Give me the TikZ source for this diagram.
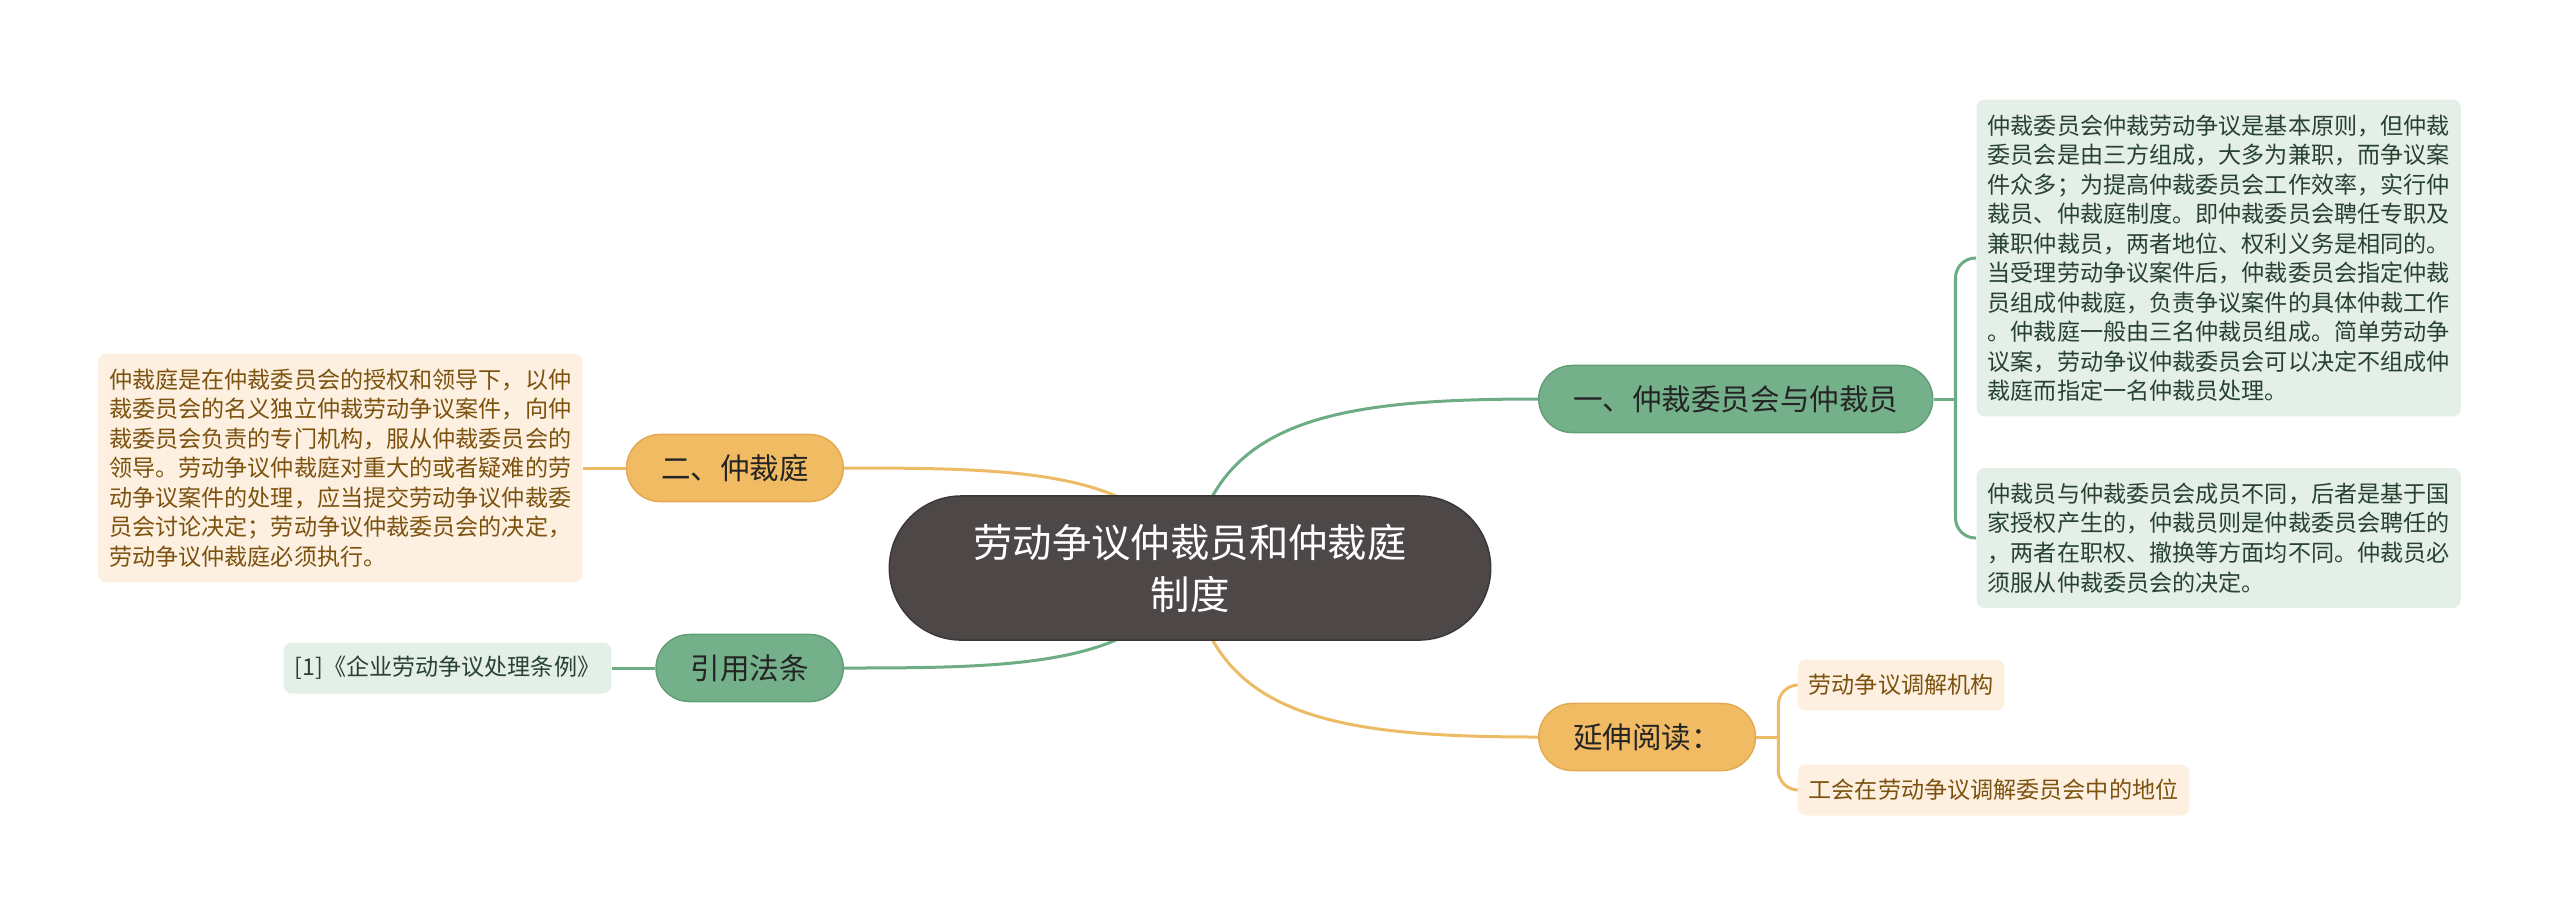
\documentclass[tikz,border=0pt]{standalone}
\usepackage{fontspec}
\setmainfont{Noto Sans CJK SC}
\usetikzlibrary{positioning,calc,backgrounds}
\definecolor{mmRoot}    {RGB}{ 77, 71, 71}
\definecolor{mmRootD}   {RGB}{ 60, 55, 55}
\definecolor{mmGreen}   {RGB}{116,176,138}
\definecolor{mmGreenD}  {RGB}{ 98,158,120}
\definecolor{mmGreenLn} {RGB}{110,172,134}
\definecolor{mmGreenL}  {RGB}{228,239,231}
\definecolor{mmGreenT}  {RGB}{ 40, 66, 50}
\definecolor{mmOrange}  {RGB}{241,187,100}
\definecolor{mmOrangeD} {RGB}{226,170, 82}
\definecolor{mmOrangeLn}{RGB}{237,187,102}
\definecolor{mmOrangeL} {RGB}{253,240,225}
\definecolor{mmOrangeT} {RGB}{124, 82, 14}
\definecolor{mmInk}     {RGB}{ 36, 36, 36}
\newcommand{\rootfont}{\fontsize{11.2pt}{14.8pt}\selectfont}
\newcommand{\branchfont}{\fontsize{8.4pt}{10pt}\selectfont}
\newcommand{\leaffont}{\fontsize{6.57pt}{8.39pt}\selectfont}
\begin{document}
\begin{tikzpicture}[x=0.01cm,y=-0.01cm,
  every node/.style={inner sep=0},
  rootbox/.style={fill=mmRoot,draw=mmRootD,line width=0.015cm,
                  rounded corners=0.72cm,minimum width=6.01cm,minimum height=1.44cm,
                  align=center,text=white,font=\rootfont},
  gbranch/.style={fill=mmGreen,draw=mmGreenD,line width=0.015cm,
                  rounded corners=0.335cm,minimum height=0.67cm,inner xsep=0.345cm,
                  text=mmInk,font=\branchfont},
  obranch/.style={gbranch,fill=mmOrange,draw=mmOrangeD},
  gleaf/.style={fill=mmGreenL,rounded corners=0.08cm,inner xsep=0.11cm,
                inner ysep=0.15cm,align=left,text=mmGreenT,font=\leaffont},
  oleaf/.style={gleaf,fill=mmOrangeL,text=mmOrangeT},
  oneline/.style={minimum height=0.51cm,inner ysep=0pt},
  glink/.style={draw=mmGreenLn,line width=0.03cm},
  olink/.style={draw=mmOrangeLn,line width=0.03cm}
]
\useasboundingbox (0,0) rectangle (2560,914);

% root
\node[rootbox] (root) at (1190,568) {劳动争议仲裁员和仲裁庭\\制度};

% branches
\node[gbranch,anchor=west] (arb)  at (1538,399) {一、仲裁委员会与仲裁员};
\node[obranch,anchor=east] (trib) at (844,468)  {二、仲裁庭};
\node[gbranch,anchor=east] (law)  at (844,668)  {引用法条};
\node[obranch,anchor=west] (read) at (1538,737) {延伸阅读：};

% leaves
\node[gleaf,anchor=west] (arbA) at (1976,258)
  {仲裁委员会仲裁劳动争议是基本原则，但仲裁\\
   委员会是由三方组成，大多为兼职，而争议案\\
   件众多；为提高仲裁委员会工作效率，实行仲\\
   裁员、仲裁庭制度。即仲裁委员会聘任专职及\\
   兼职仲裁员，两者地位、权利义务是相同的。\\
   当受理劳动争议案件后，仲裁委员会指定仲裁\\
   员组成仲裁庭，负责争议案件的具体仲裁工作\\
   。仲裁庭一般由三名仲裁员组成。简单劳动争\\
   议案，劳动争议仲裁委员会可以决定不组成仲\\
   裁庭而指定一名仲裁员处理。};
\node[gleaf,anchor=west] (arbB) at (1976,538)
  {仲裁员与仲裁委员会成员不同，后者是基于国\\
   家授权产生的，仲裁员则是仲裁委员会聘任的\\
   ，两者在职权、撤换等方面均不同。仲裁员必\\
   须服从仲裁委员会的决定。};
\node[oleaf,anchor=east] (tribA) at (583,468)
  {仲裁庭是在仲裁委员会的授权和领导下，以仲\\
   裁委员会的名义独立仲裁劳动争议案件，向仲\\
   裁委员会负责的专门机构，服从仲裁委员会的\\
   领导。劳动争议仲裁庭对重大的或者疑难的劳\\
   动争议案件的处理，应当提交劳动争议仲裁委\\
   员会讨论决定；劳动争议仲裁委员会的决定，\\
   劳动争议仲裁庭必须执行。};
\node[gleaf,oneline,anchor=east] (lawA) at (612,668) {[1]《企业劳动争议处理条例》};
\node[oleaf,oneline,anchor=west] (readA) at (1797,685) {劳动争议调解机构};
\node[oleaf,oneline,anchor=west] (readB) at (1797,790) {工会在劳动争议调解委员会中的地位};

\coordinate (jArb)  at ($(arb.east)+(22,0)$);
\coordinate (jRead) at ($(read.east)+(22,0)$);

% connectors
\begin{scope}[on background layer]
\draw[glink] (root.center) .. controls +(20,-148) and +(-208,0) .. (arb.west);
\draw[olink] (root.center) .. controls +(-40,-98) and +(176,0) .. (trib.east);
\draw[glink] (root.center) .. controls +(-40,98) and +(176,0) .. (law.east);
\draw[olink] (root.center) .. controls +(20,148) and +(-208,0) .. (read.west);
\draw[glink] (arb.east) -- (jArb);
\draw[glink,rounded corners=0.2cm] (jArb) |- (arbA.west);
\draw[glink,rounded corners=0.2cm] (jArb) |- (arbB.west);
\draw[olink] (read.east) -- (jRead);
\draw[olink,rounded corners=0.2cm] (jRead) |- (readA.west);
\draw[olink,rounded corners=0.2cm] (jRead) |- (readB.west);
\draw[olink] (trib.west) -- (tribA.east);
\draw[glink] (law.west) -- (lawA.east);
\end{scope}
\end{tikzpicture}
\end{document}
